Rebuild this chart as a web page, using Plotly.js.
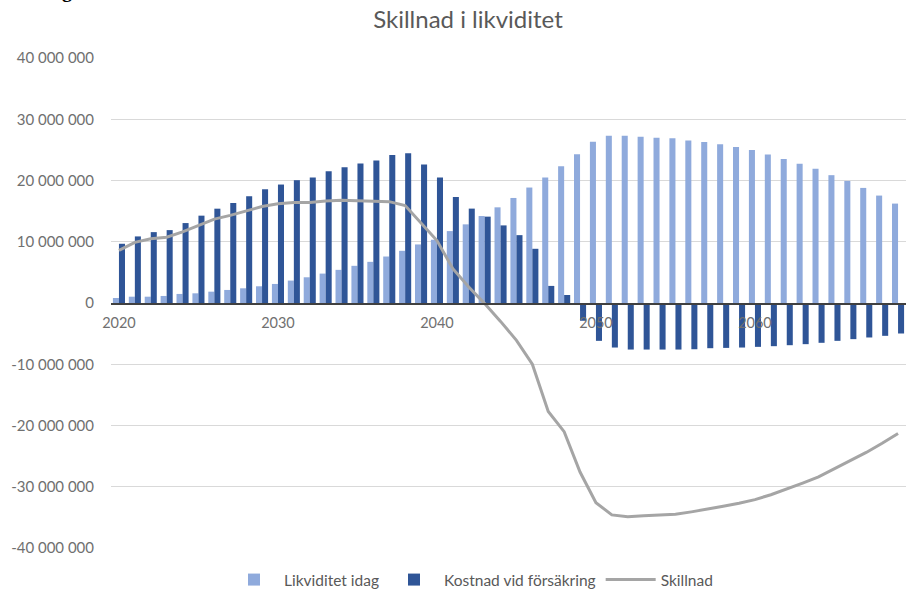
<!DOCTYPE html>
<html>
<head>
<meta charset="utf-8">
<script src="https://cdn.plot.ly/plotly-3.0.1.min.js"></script>
<style>html,body{margin:0;padding:0;background:#fff;}#chart{width:906px;height:590px;}</style>
</head>
<body>
<div id="chart"></div>
<script>
const years = [];
for (let y = 2020; y <= 2069; y++) years.push(y);

// Values in millions SEK
const likviditetIdag = [
  0.82, 1.03, 1.03, 1.15, 1.48, 1.58, 1.85, 2.13, 2.40, 2.73,
  3.11, 3.66, 4.20, 4.80, 5.41, 6.07, 6.72, 7.59, 8.52, 9.56,
  10.33, 11.74, 12.84, 14.20, 15.62, 17.15, 18.85, 20.49, 22.34, 24.30,
  26.33, 27.30, 27.30, 27.15, 26.99, 26.88, 26.55, 26.28, 25.90, 25.46,
  24.97, 24.26, 23.50, 22.72, 21.90, 20.87, 19.93, 18.79, 17.54, 16.23
];
const kostnadVidForsakring = [
  9.67, 10.87, 11.57, 11.90, 13.05, 14.26, 15.40, 16.33, 17.43, 18.57,
  19.34, 20.05, 20.49, 21.52, 22.18, 22.79, 23.28, 24.15, 24.43, 22.62,
  20.49, 17.31, 15.41, 14.10, 12.67, 11.08, 8.85, 2.79, 1.31, -2.90,
  -6.18, -7.27, -7.60, -7.60, -7.60, -7.60, -7.55, -7.38, -7.33, -7.27,
  -7.16, -7.05, -6.89, -6.72, -6.50, -6.18, -5.90, -5.63, -5.36, -4.98
];
const skillnad = [
  8.6, 9.9, 10.5, 10.75, 11.6, 12.7, 13.7, 14.3, 15.0, 15.75,
  16.2, 16.4, 16.4, 16.65, 16.77, 16.7, 16.6, 16.55, 15.9, 13.1,
  10.2, 5.6, 2.6, -0.1, -3.0, -6.1, -10.0, -17.7, -21.0, -27.6,
  -32.6, -34.6, -34.9, -34.75, -34.6, -34.5, -34.1, -33.7, -33.2, -32.7,
  -32.1, -31.3, -30.4, -29.4, -28.4, -27.1, -25.8, -24.4, -22.9, -21.3
];

const yTickVals = [-40, -30, -20, -10, 0, 10, 20, 30, 40];
const yTickText = ['-40 000 000', '-30 000 000', '-20 000 000', '-10 000 000', '0',
  '10 000 000', '20 000 000', '30 000 000', '40 000 000'];
const xTickVals = [2020, 2030, 2040, 2050, 2060];
const xTickText = ['2020', '2030', '2040', '2050', '2060'];

const M = 1e6;
const scale = a => a.map(v => v * M);

const FONT = 'Lato, "Open Sans", sans-serif';
const GRAY = '#595959';
const TICKGRAY = '#707070';

const traces = [
  {type: 'bar', name: 'Likviditet idag', x: years, y: scale(likviditetIdag),
   marker: {color: '#8FAADC'}},
  {type: 'bar', name: 'Kostnad vid försäkring', x: years, y: scale(kostnadVidForsakring),
   marker: {color: '#2F5597'}},
  {type: 'scatter', mode: 'lines', name: 'Skillnad', x: years, y: scale(skillnad),
   line: {color: '#A5A5A5', width: 3}}
];

const layout = {
  width: 906, height: 590,
  margin: {l: 111, r: 0, t: 58, b: 42, autoexpand: false},
  paper_bgcolor: '#ffffff', plot_bgcolor: '#ffffff',
  font: {family: FONT, color: GRAY, size: 14},
  title: {text: 'Skillnad i likviditet', font: {family: FONT, size: 24, color: GRAY},
          x: 468 / 906, xanchor: 'center', y: 1 - 20 / 590, yanchor: 'middle'},
  barmode: 'group', bargap: 0.24, bargroupgap: 0,
  xaxis: {range: [2019.5, 2069.5], tickvals: xTickVals, ticktext: xTickText,
          anchor: 'free', position: 0.5, showgrid: false, zeroline: false,
          showline: true, linecolor: '#404040', linewidth: 1.5, ticks: '',
          ticklabelstandoff: 6, tickfont: {family: FONT, size: 14.5, color: TICKGRAY},
          layer: 'above traces'},
  yaxis: {range: [-40 * M, 40 * M], tickvals: scale(yTickVals), ticktext: yTickText,
          showgrid: true, gridcolor: '#d9d9d9', gridwidth: 1, zeroline: false,
          showline: false, ticks: '', ticklabelstandoff: 16,
          tickfont: {family: FONT, size: 15, color: TICKGRAY}},
  legend: {orientation: 'h', x: (471 - 111) / 795, xref: 'paper', xanchor: 'center',
           y: -32 / 490, yanchor: 'middle', font: {family: FONT, size: 15.5, color: GRAY},
           traceorder: 'normal', itemwidth: 50},
  annotations: [
    {text: '<b>g</b>', xref: 'paper', yref: 'paper', x: (67 - 111) / 795, y: (548 - 4) / 490,
     xanchor: 'center', yanchor: 'bottom', showarrow: false,
     font: {family: '"Liberation Serif", serif', size: 20, color: '#000'}}
  ],
  showlegend: true
};

Plotly.newPlot('chart', traces, layout, {displayModeBar: false, staticPlot: true});
</script>
</body>
</html>
